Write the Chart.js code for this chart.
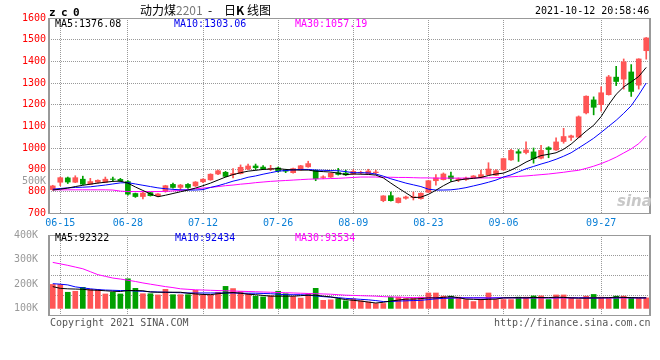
<!DOCTYPE html>
<html>
<head>
<meta charset="utf-8">
<script src="https://cdn.jsdelivr.net/npm/chart.js@4.4.0/dist/chart.umd.min.js"></script>
<style>
  body { margin: 0; background: #fff; }
  #wrap { position: relative; width: 660px; height: 360px; overflow: hidden; font-family: 'DejaVu Sans Mono', monospace; font-size: 10px; }
  #priceBox { position: absolute; left: 0; top: 0; }
  #volBox { position: absolute; left: 0; top: 226px; }
  .t { position: absolute; white-space: nowrap; line-height: 10px; }
  .cjk { font-family: 'Noto Sans CJK SC', sans-serif; font-size: 12px; line-height: 12px; }
</style>
</head>
<body>
<div id="wrap">
  <div id="priceBox"><canvas id="priceChart" width="660" height="232"></canvas></div>
  <div id="volBox"><canvas id="volChart" width="660" height="98"></canvas></div>

  <div class="t" style="left:49px;top:7px;font-size:11px;line-height:11px;font-weight:bold;letter-spacing:5.4px;">zc0</div>
  <div class="t cjk" style="left:140px;top:4px;">动力煤</div>
  <div class="t cjk" style="left:176px;top:4px;color:#777;">2201</div>
  <div class="t cjk" style="left:208px;top:4px;">-</div>
  <div class="t cjk" style="left:224px;top:4px;">日<b>K</b> 线图</div>
  <div class="t" style="left:535px;top:6px;">2021-10-12 20:58:46</div>

  <div class="t" style="left:55px;top:19px;color:#000;">MA5:1376.08</div>
  <div class="t" style="left:174px;top:19px;color:#0000ee;">MA10:1303.06</div>
  <div class="t" style="left:295px;top:19px;color:#ff00ff;">MA30:1057.19</div>

  <div class="t" style="left:22px;top:176px;color:#999;">500K</div>
  <div class="t" style="left:617px;top:194px;font-family:'DejaVu Sans',sans-serif;font-size:15px;line-height:15px;font-weight:bold;font-style:italic;color:#c8c8c8;">sina</div>

  <div class="t" style="left:55px;top:233px;color:#000;">MA5:92322</div>
  <div class="t" style="left:175px;top:233px;color:#0000ee;">MA10:92434</div>
  <div class="t" style="left:295px;top:233px;color:#ff00ff;">MA30:93534</div>

  <div class="t" style="left:50px;top:318px;color:#555;">Copyright 2021 SINA.COM</div>
  <div class="t" style="left:494px;top:318px;color:#555;">http://finance.sina.com.cn</div>
</div>

<script>
// trading days shown (zc0 daily)
const dates = [
  '06-11','06-15','06-16','06-17','06-18','06-21','06-22','06-23','06-24','06-25',
  '06-28','06-29','06-30','07-01','07-02','07-05','07-06','07-07','07-08','07-09',
  '07-12','07-13','07-14','07-15','07-16','07-19','07-20','07-21','07-22','07-23',
  '07-26','07-27','07-28','07-29','07-30','08-02','08-03','08-04','08-05','08-06',
  '08-09','08-10','08-11','08-12','08-13','08-16','08-17','08-18','08-19','08-20',
  '08-23','08-24','08-25','08-26','08-27','08-30','08-31','09-01','09-02','09-03',
  '09-06','09-07','09-08','09-09','09-10','09-13','09-14','09-15','09-16','09-17',
  '09-22','09-23','09-24','09-27','09-28','09-29','09-30','10-08','10-11','10-12'
];
const tickDates = ['06-15', '06-28', '07-12', '07-26', '08-09', '08-23', '09-06', '09-27'];

const opens = [
  808, 842, 862, 842, 856, 833, 842, 842, 857, 855,
  845, 790, 776, 794, 780, 800, 832, 818, 832, 825,
  844, 853, 880, 888, 877, 882, 903, 917, 912, 902,
  908, 897, 886, 899, 913, 897, 864, 866, 886, 884,
  880, 885, 881, 886, 757, 780, 748, 768, 771, 766,
  796, 849, 854, 871, 853, 855, 862, 865, 877, 874,
  899, 945, 983, 979, 982, 953, 1001, 991, 1030, 1049,
  1050, 1162, 1222, 1200, 1246, 1327, 1318, 1351, 1290, 1449
];
const highs = [
  828, 866, 866, 872, 870, 860, 853, 866, 866, 860,
  850, 792, 795, 796, 790, 828, 838, 832, 836, 845,
  858, 881, 898, 892, 905, 922, 926, 926, 919, 920,
  912, 902, 907, 920, 939, 899, 872, 886, 906, 898,
  900, 893, 902, 898, 780, 797, 771, 778, 797, 793,
  851, 877, 885, 889, 862, 866, 873, 898, 932, 900,
  953, 994, 993, 1028, 1000, 1012, 1006, 1047, 1091, 1060,
  1148, 1241, 1236, 1282, 1335, 1377, 1411, 1385, 1412, 1510
];
const lows = [
  805, 826, 836, 840, 830, 832, 838, 840, 846, 845,
  782, 772, 765, 778, 776, 796, 815, 806, 814, 822,
  840, 851, 877, 866, 862, 880, 900, 898, 901, 896,
  889, 886, 884, 897, 911, 849, 858, 864, 875, 873,
  877, 880, 879, 878, 752, 755, 746, 764, 760, 764,
  794, 828, 852, 846, 845, 850, 860, 862, 875, 872,
  897, 943, 938, 973, 930, 950, 955, 989, 1022, 1035,
  1048, 1157, 1153, 1170, 1244, 1288, 1272, 1238, 1272, 1410
];
const closes = [
  825, 863, 843, 863, 833, 845, 851, 856, 855, 848,
  787, 776, 792, 780, 788, 826, 818, 829, 818, 843,
  856, 879, 895, 869, 882, 911, 917, 909, 904, 906,
  894, 893, 905, 918, 928, 858, 867, 883, 878, 876,
  892, 888, 894, 889, 779, 757, 769, 774, 775, 791,
  849, 862, 880, 858, 858, 861, 871, 877, 903, 895,
  951, 989, 976, 991, 951, 989, 993, 1028, 1053, 1056,
  1144, 1239, 1188, 1255, 1328, 1307, 1398, 1261, 1411, 1508
];
const ma5 = [
  806, 810, 815, 822, 828, 833, 838, 842, 846, 847,
  838, 820, 804, 788, 775, 782, 790, 798, 806, 815,
  826, 838, 852, 866, 877, 886, 893, 897, 901, 903,
  905, 901, 899, 898, 898, 893, 891, 889, 884, 877,
  880, 879, 878, 875, 862, 838, 815, 793, 771, 773,
  786, 805, 826, 844, 852, 857, 860, 864, 873, 880,
  884, 898, 915, 935, 951, 965, 971, 978, 994, 1018,
  1048, 1078, 1105, 1145, 1200, 1248, 1282, 1305, 1330, 1372
];
const ma10 = [
  810, 813, 816, 818, 819, 821, 825, 829, 834, 839,
  840, 834, 828, 822, 816, 812, 809, 807, 806, 806,
  808, 818, 826, 836, 847, 855, 865, 871, 879, 886,
  893, 896, 899, 901, 901, 898, 897, 896, 895, 891,
  886, 886, 885, 880, 870, 858, 848, 838, 830, 822,
  810, 806, 806, 807, 811, 817, 825, 833, 842, 852,
  866, 876, 890, 904, 915, 926, 936, 948, 962, 978,
  1000, 1022, 1045, 1072, 1100, 1128, 1160, 1195, 1245, 1300
];
const ma30 = [
  807, 807, 807, 807, 807, 807, 807, 807, 806, 801,
  799, 799, 799, 799, 799, 800, 802, 804, 808, 812,
  815, 818, 822, 826, 829, 833, 836, 840, 843, 846,
  848, 850, 852, 854, 856, 857, 858, 859, 860, 862,
  864, 866, 866, 866, 865, 865, 864, 864, 863, 862,
  862, 861, 861, 861, 861, 861, 861, 862, 862, 863,
  865, 867, 869, 871, 874, 877, 880, 884, 888, 893,
  897, 906, 916, 928, 942, 958, 977, 996, 1020, 1055
];

const volumes = [
  198000, 198000, 166000, 170000, 186000, 178000, 177000, 159000, 166000, 159000,
  221000, 182000, 160000, 160000, 155000, 178000, 156000, 156000, 156000, 174000,
  156000, 156000, 166000, 190000, 181000, 169000, 159000, 150000, 147000, 152000,
  170000, 160000, 148000, 142000, 159000, 182000, 133000, 135000, 139000, 131000,
  139000, 131000, 126000, 120000, 120000, 146000, 146000, 140000, 143000, 146000,
  163000, 163000, 150000, 150000, 146000, 136000, 128000, 136000, 163000, 136000,
  136000, 136000, 146000, 146000, 151000, 151000, 136000, 155000, 155000, 143000,
  136000, 150000, 157000, 146000, 143000, 150000, 150000, 143000, 143000, 143000
];
const volMa5 = [
  189000, 182000, 180000, 179000, 178000, 175000, 174000, 172000, 170000, 169000,
  173000, 173000, 172000, 167000, 166000, 166000, 166000, 166000, 162000, 159000,
  157000, 156000, 160000, 163000, 165000, 162000, 158000, 156000, 153000, 150000,
  150000, 150000, 150000, 152000, 154000, 154000, 150000, 147000, 141000, 136000,
  133000, 130000, 126000, 122000, 125000, 130000, 134000, 138000, 138000, 140000,
  143000, 143000, 145000, 148000, 144000, 138000, 137000, 136000, 137000, 138000,
  143000, 143000, 144000, 143000, 145000, 144000, 144000, 146000, 145000, 143000,
  142000, 142000, 143000, 143000, 144000, 146000, 145000, 144000, 143000, 143000
];
const volMa10 = [
  201000, 199000, 196000, 188000, 184000, 180000, 177000, 175000, 174000, 173000,
  173000, 171000, 170000, 168000, 167000, 166000, 165000, 164000, 163000, 163000,
  163000, 163000, 163000, 163000, 163000, 162000, 162000, 162000, 161000, 160000,
  158000, 156000, 156000, 156000, 154000, 151000, 148000, 146000, 144000, 141000,
  139000, 137000, 135000, 132000, 128000, 128000, 130000, 131000, 132000, 133000,
  136000, 139000, 141000, 142000, 143000, 143000, 143000, 143000, 142000, 143000,
  143000, 144000, 143000, 143000, 143000, 144000, 143000, 143000, 144000, 143000,
  143000, 143000, 142000, 143000, 143000, 143000, 144000, 143000, 143000, 143000
];
const volMa30 = [
  288000, 282000, 276000, 269000, 262000, 250000, 238000, 231000, 224000, 220000,
  215000, 210000, 204000, 199000, 194000, 189000, 185000, 180000, 178000, 176000,
  175000, 174000, 173000, 172000, 171000, 170000, 169000, 168000, 167000, 166000,
  165000, 164000, 163000, 162000, 161000, 160000, 159000, 158000, 156000, 154000,
  153000, 152000, 151000, 150000, 148000, 147000, 146000, 145000, 144000, 144000,
  143000, 143000, 143000, 143000, 143000, 143000, 143000, 143000, 143000, 143000,
  143000, 143000, 143000, 143000, 143000, 143000, 143000, 143000, 143000, 143000,
  143000, 143000, 143000, 143000, 143000, 143000, 143000, 143000, 143000, 143000
];
const volTicks = [100000, 200000, 300000, 400000];
// the volume pane is split into four equal bands by dotted lines
const volBands = [0, 1, 2, 3, 4];

const RED = '#ff5555';
const GREEN = '#00a000';
const GRID = '#999999';
const candleColors = closes.map((c, i) => c >= opens[i] ? RED : GREEN);

Chart.defaults.font.family = "'DejaVu Sans Mono', monospace";
Chart.defaults.font.size = 10;

// gray box round the plot area, thicker on the sides
const frame = {
  id: 'frame',
  afterDraw(chart) {
    const { ctx, chartArea: a } = chart;
    const l = Math.round(a.left), r = Math.round(a.right);
    const t = Math.round(a.top), b = Math.round(a.bottom);
    ctx.save();
    ctx.fillStyle = '#999';
    ctx.fillRect(l - 1, t, 2, b - t + 1);
    ctx.fillRect(r - 1, t, 2, b - t + 1);
    ctx.fillRect(l, t, r - l, 1);
    ctx.fillRect(l, b, r - l, 1);
    ctx.restore();
  }
};

const isTickDate = i => tickDates.includes(dates[i]);

function xScale(showLabels) {
  return {
    offset: true,
    grid: {
      offset: false,
      drawTicks: false,
      color: c => isTickDate(c.index) ? GRID : 'transparent'
    },
    border: { display: false, dash: [1, 1] },
    ticks: {
      display: showLabels,
      autoSkip: false,
      maxRotation: 0,
      padding: 4,
      color: '#0a7fd6',
      callback: (v, i) => isTickDate(i) ? dates[i] : ''
    },
    afterFit: s => { s.height = showLabels ? 19 : 0; }
  };
}

function maLine(data, color, yAxis) {
  return {
    type: 'line',
    data: data,
    borderColor: color,
    borderWidth: 1,
    pointRadius: 0,
    tension: 0,
    yAxisID: yAxis,
    order: 0
  };
}

new Chart(document.getElementById('priceChart'), {
  type: 'bar',
  data: {
    labels: dates,
    datasets: [
      maLine(ma5, '#000000', 'y'),
      maLine(ma10, '#0000ff', 'y'),
      maLine(ma30, '#ff00ff', 'y'),
      {
        data: opens.map((o, i) => [o, closes[i]]),
        backgroundColor: candleColors,
        barThickness: 5,
        grouped: false,
        yAxisID: 'y',
        order: 1
      },
      {
        data: lows.map((l, i) => [l, highs[i]]),
        backgroundColor: candleColors,
        barThickness: 1,
        grouped: false,
        yAxisID: 'y',
        order: 2
      }
    ]
  },
  options: {
    responsive: false,
    animation: false,
    layout: { padding: { left: 0, right: 10, top: 18, bottom: 0 } },
    plugins: { legend: { display: false }, tooltip: { enabled: false } },
    scales: {
      x: xScale(true),
      y: {
        min: 700,
        max: 1600,
        ticks: { stepSize: 100, color: '#ff0000', padding: 3, callback: v => String(v) },
        grid: {
          drawTicks: false,
          color: c => (c.tick.value === 700 || c.tick.value === 1600) ? 'transparent' : GRID
        },
        border: { display: false, dash: [1, 1] },
        afterFit: s => { s.width = 49; }
      }
    }
  },
  plugins: [frame]
});

new Chart(document.getElementById('volChart'), {
  type: 'bar',
  data: {
    labels: dates,
    datasets: [
      maLine(volMa5, '#000000', 'y'),
      maLine(volMa10, '#0000ff', 'y'),
      maLine(volMa30, '#ff00ff', 'y'),
      {
        data: volumes,
        backgroundColor: candleColors,
        barThickness: 5,
        base: 100000,
        yAxisID: 'y',
        order: 1
      }
    ]
  },
  options: {
    responsive: false,
    animation: false,
    layout: { padding: { left: 0, right: 10, top: 8, bottom: 6 } },
    plugins: { legend: { display: false }, tooltip: { enabled: false } },
    scales: {
      x: xScale(false),
      band: {
        type: 'linear',
        axis: 'y',
        position: 'left',
        min: 0,
        max: 4,
        afterBuildTicks: s => { s.ticks = volBands.map(v => ({ value: v })); },
        ticks: { display: false },
        grid: {
          drawTicks: false,
          color: c => (c.index === 0 || c.index === volBands.length - 1) ? 'transparent' : GRID
        },
        border: { display: false, dash: [1, 1] },
        afterFit: s => { s.width = 0; }
      },
      y: {
        min: 73000,
        max: 400000,
        afterBuildTicks: s => { s.ticks = volTicks.map(v => ({ value: v })); },
        ticks: { color: '#999', padding: 3, callback: v => (v / 1000) + 'K' },
        grid: { display: false },
        border: { display: false },
        afterFit: s => { s.width = 49; }
      }
    }
  },
  plugins: [frame]
});
</script>
</body>
</html>
